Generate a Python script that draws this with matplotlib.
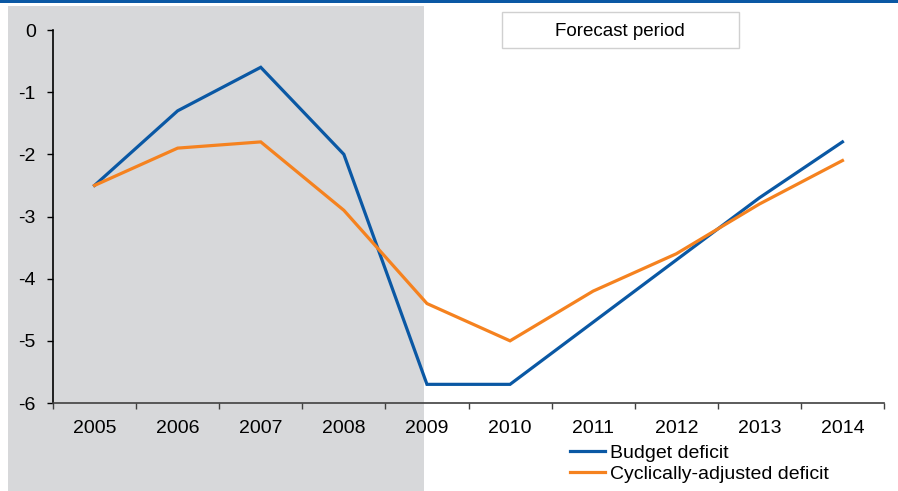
import numpy as np
import matplotlib
matplotlib.use('Agg')
from matplotlib import pyplot as plt
from matplotlib.patches import Rectangle

years = ['2005', '2006', '2007', '2008', '2009', '2010', '2011', '2012', '2013', '2014']
budgetDeficit = [-2.5, -1.3, -0.6, -2.0, -5.7, -5.7, -4.7, -3.7, -2.7, -1.8]
cyclicalDeficit = [-2.5, -1.9, -1.8, -2.9, -4.4, -5.0, -4.2, -3.6, -2.8, -2.1]
yTicks = [0, -1, -2, -3, -4, -5, -6]

blue = '#0a58a4'
orange = '#f5821f'
shade = '#d7d8da'

plt.rcParams['font.family'] = ['Liberation Sans', 'DejaVu Sans']
plt.rcParams['font.size'] = 14

W, H = 898, 491
fig = plt.figure(figsize=(W / 100, H / 100), dpi=100)

# grey history region (runs outside the axes) and top rule, behind the axes
fig.patches.append(Rectangle((8 / W, 0), (424 - 8) / W, 1 - 6 / H, transform=fig.transFigure,
                             facecolor=shade, edgecolor='none', zorder=-2))
fig.patches.append(Rectangle((0, 1 - 3 / H), 1, 3 / H, transform=fig.transFigure,
                             facecolor=blue, edgecolor='none', zorder=-2))

ax = fig.add_axes([53 / W, 1 - 403 / H, (884 - 53) / W, (403 - 30) / H])
ax.patch.set_alpha(0)

x = np.arange(len(years))
ax.plot(x, budgetDeficit, color=blue, lw=2.3, label='Budget deficit', solid_joinstyle='miter')
ax.plot(x, cyclicalDeficit, color=orange, lw=2.3, label='Cyclically-adjusted deficit', solid_joinstyle='miter')

ax.set_xlim(-0.5, len(years) - 0.5)
ax.set_ylim(-6, 0)
ax.set_yticks(yTicks)
ax.set_yticklabels([str(v) for v in yTicks])
ax.set_xticks(x)
ax.set_xticklabels(years)
ax.set_xticks(np.arange(len(years) + 1) - 0.5, minor=True)
ax.tick_params(axis='x', which='major', length=0, pad=12)
ax.tick_params(axis='x', which='minor', length=4.5, width=1, color='#404040', direction='out')
ax.tick_params(axis='y', length=4.5, width=1, direction='out', pad=8)

for s in ['top', 'right']:
    ax.spines[s].set_visible(False)
ax.spines['bottom'].set_color('#404040')
ax.spines['bottom'].set_linewidth(1.2)
ax.spines['left'].set_linewidth(1.2)

# forecast period box
fig.patches.append(Rectangle((502 / W, 1 - 48 / H), (739 - 502) / W, 36 / H, transform=fig.transFigure,
                             facecolor='white', edgecolor='#d0d0d0', lw=1, zorder=1))
fig.text(620 / W, 1 - 31 / H, 'Forecast period', ha='center', va='center', fontsize=13.5)

ax.legend(loc='upper left', bbox_to_anchor=(570 / W, 1 - 444 / H), bbox_transform=fig.transFigure,
          frameon=False, handlelength=1.8, handletextpad=0.26, labelspacing=0.2,
          borderpad=0, borderaxespad=0, fontsize=14)

fig.savefig('out.png', dpi=100)
